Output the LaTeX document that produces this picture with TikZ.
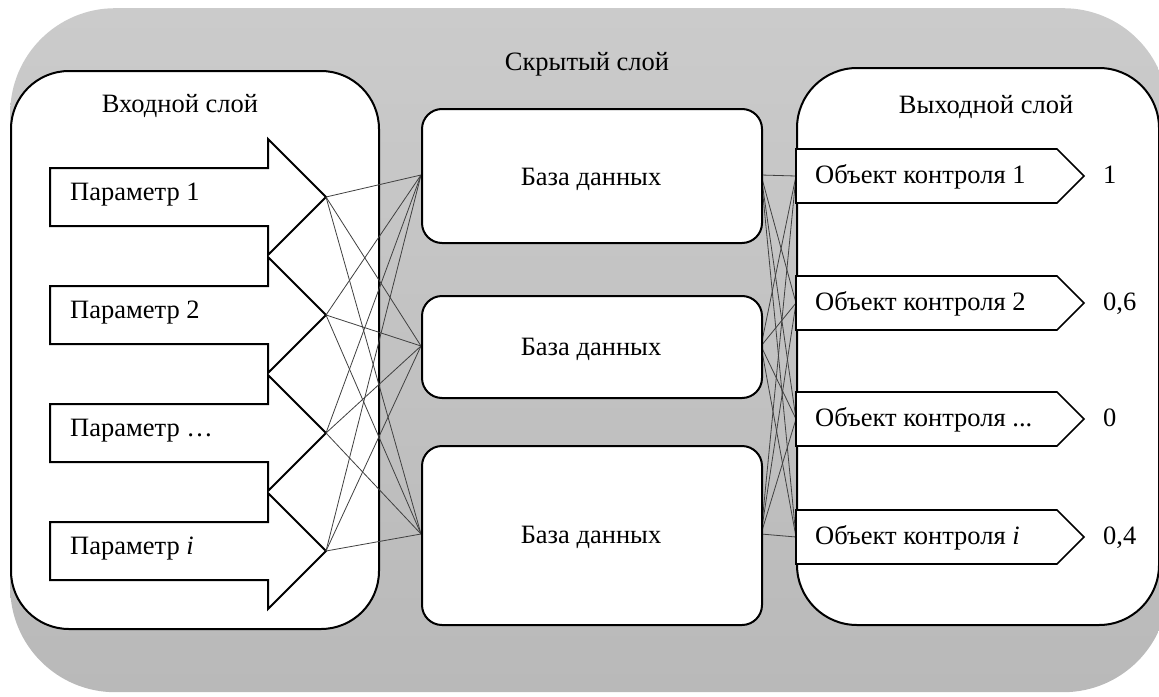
\documentclass[tikz,border=0pt]{standalone}
\usepackage{fontspec}
\setmainfont{Liberation Serif}
\definecolor{bgtop}{HTML}{CBCBCB}
\definecolor{bgbot}{HTML}{B9B9B9}
\begin{document}
\begin{tikzpicture}[x=1pt,y=-1pt,
  txt/.style={inner sep=0pt, font=\fontsize{26.5}{31}\selectfont},
  bgbox/.style={draw=none, top color=bgtop, bottom color=bgbot, rounded corners=105pt, inner sep=0pt, anchor=north west},
  layer/.style={draw=black, fill=white, line width=2pt, rounded corners=58pt, inner sep=0pt, anchor=north west},
  dbbox/.style={draw=black, fill=white, line width=2pt, rounded corners=20pt, inner sep=0pt, anchor=north west, minimum width=340pt},
  inarrow/.style={draw=black, fill=white, line width=2pt, line join=miter},
  outarrow/.style={draw=black, fill=white, line width=1.6pt, line join=miter},
  link/.style={line width=0.8pt, draw=black!75}
]
\useasboundingbox (0,0) rectangle (1159,696);
% hidden layer background
\node[bgbox, minimum width=1158pt, minimum height=684pt] (hidden) at (10,8) {};
\node[txt, anchor=base] (hiddenlbl) at (587,70) {Скрытый слой};
% input layer
\node[layer, minimum width=368pt, minimum height=558pt] (inlayer) at (10,70) {};
\node[txt, anchor=base] (inlbl) at (180,112) {Входной слой};
% input arrows
\foreach \c/\t/\n in {197/{Параметр 1}/1, 315/{Параметр 2}/2, 433/{Параметр …}/3, 551/{Параметр \textit{i}}/4}{
  \draw[inarrow] (50,\c-29) -- (268,\c-29) -- (268,\c-58) -- (326,\c) -- (268,\c+58) -- (268,\c+29) -- (50,\c+29) -- cycle;
  \node[txt, anchor=base west] (plbl\n) at (70,\c+3) {\t};
  \coordinate (in\n) at (326,\c);
}
% output layer
\node[layer, rounded corners=60pt, minimum width=362pt, minimum height=557pt] (outlayer) at (796,67) {};
\node[txt, anchor=base] (outlbl) at (986,113) {Выходной слой};
% connection points
\coordinate (db1w) at (421,175);
\coordinate (db2w) at (421,346);
\coordinate (db3w) at (421,534);
\coordinate (db1e) at (761,175);
\coordinate (db2e) at (761,346);
\coordinate (db3e) at (761,534);
\foreach \c/\n in {176/1, 303/2, 419/3, 537/4}{
  \coordinate (out\n) at (796,\c);
}
\foreach \i in {1,2,3,4}{
  \foreach \j in {1,2,3}{
    \draw[link] (in\i) -- (db\j w);
    \draw[link] (db\j e) -- (out\i);
  }
}
% output arrows
\foreach \c/\t/\v/\n in {176/{Объект контроля 1}/1/1, 303/{Объект контроля 2}/{0,6}/2, 419/{Объект контроля ...}/0/3, 537/{Объект контроля \textit{i}}/{0,4}/4}{
  \draw[outarrow] (796,\c-27) -- (1057,\c-27) -- (1084,\c) -- (1057,\c+27) -- (796,\c+27) -- cycle;
  \node[txt, anchor=base west] (olbl\n) at (815,\c+7) {\t};
  \node[txt, anchor=base west] (oval\n) at (1103,\c+7) {\v};
}
% database boxes
\node[dbbox, minimum height=134pt] (db1) at (421,108) {};
\node[dbbox, minimum height=102pt] (db2) at (421,295) {};
\node[dbbox, minimum height=179pt] (db3) at (421,445) {};
\node[txt, anchor=base] (db1lbl) at (591,185) {База данных};
\node[txt, anchor=base] (db2lbl) at (591,355) {База данных};
\node[txt, anchor=base] (db3lbl) at (591,543) {База данных};
\end{tikzpicture}
\end{document}
